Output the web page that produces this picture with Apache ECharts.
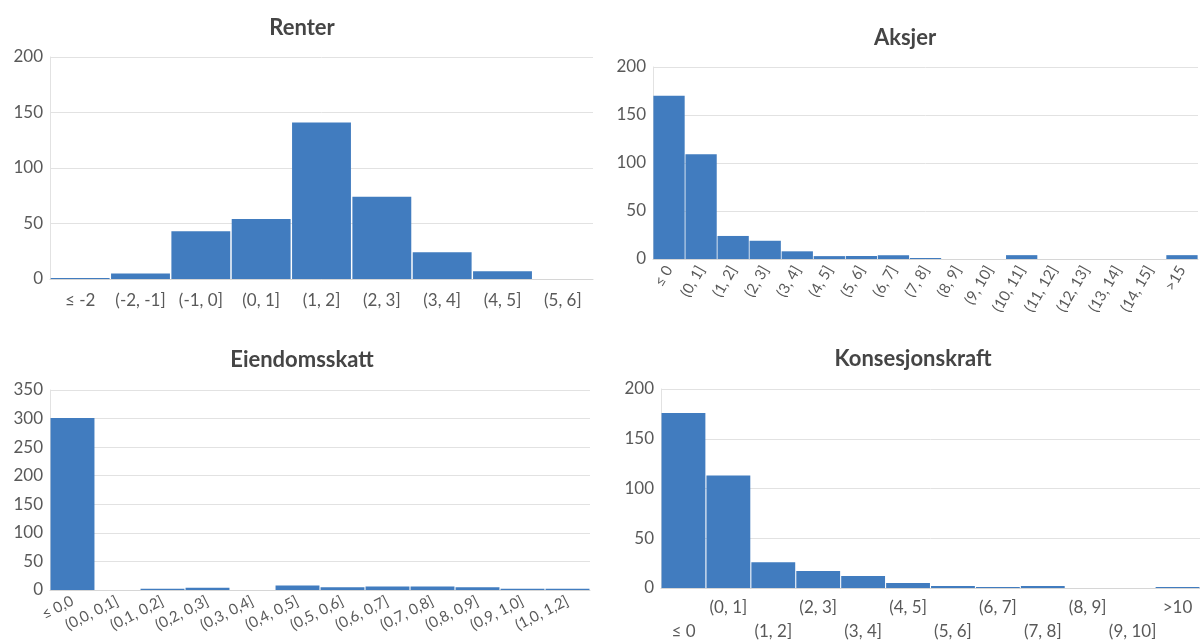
<!DOCTYPE html>
<html>
<head>
<meta charset="utf-8">
<title>Fordelinger</title>
<script src="https://cdn.jsdelivr.net/npm/echarts@6/dist/echarts.min.js"></script>
<style>
  html, body { margin: 0; padding: 0; background: #fff; }
  #chart { width: 1200px; height: 644px; }
</style>
</head>
<body>
<div id="chart"></div>
<script>
// Histogram bins and counts for each panel
const renterCategories = ['≤ -2', '(-2, -1]', '(-1, 0]', '(0, 1]', '(1, 2]', '(2, 3]', '(3, 4]', '(4, 5]', '(5, 6]'];
const renterValues = [1, 5, 43, 54, 141, 74, 24, 7, 0];

const aksjerCategories = ['≤ 0', '(0, 1]', '(1, 2]', '(2, 3]', '(3, 4]', '(4, 5]', '(5, 6]', '(6, 7]', '(7, 8]', '(8, 9]', '(9, 10]', '(10, 11]', '(11, 12]', '(12, 13]', '(13, 14]', '(14, 15]', '>15'];
const aksjerValues = [170, 109, 24, 19, 8, 3, 3, 4, 1, 0, 0, 4, 0, 0, 0, 0, 4];

const eiendomCategories = ['≤ 0,0', '(0,0, 0,1]', '(0,1, 0,2]', '(0,2, 0,3]', '(0,3, 0,4]', '(0,4, 0,5]', '(0,5, 0,6]', '(0,6, 0,7]', '(0,7, 0,8]', '(0,8, 0,9]', '(0,9, 1,0]', '(1,0, 1,2]'];
const eiendomValues = [301, 0, 2, 4, 0, 8, 5, 6, 6, 5, 2, 2];

const konsesjonCategories = ['≤ 0', '(0, 1]', '(1, 2]', '(2, 3]', '(3, 4]', '(4, 5]', '(5, 6]', '(6, 7]', '(7, 8]', '(8, 9]', '(9, 10]', '>10'];
const konsesjonValues = [176, 113, 26, 17, 12, 5, 2, 1, 2, 0, 0, 1];

const panelTitles = ['Renter', 'Aksjer', 'Eiendomsskatt', 'Konsesjonskraft'];
const yMax = [200, 200, 350, 200];

const FONT = 'Lato, "Noto Sans", sans-serif';
const BAR = '#417CBF';
const GRID_LINE = '#E2E2E2';
const LABEL = '#595959';

const chart = echarts.init(document.getElementById('chart'), null, { renderer: 'canvas' });

const grids = [
  { left: 50, top: 57, width: 543, height: 222 },
  { left: 653, top: 67, width: 545, height: 192 },
  { left: 50, top: 390, width: 540, height: 200 },
  { left: 661, top: 389, width: 545, height: 200 }
];

const titlePos = [
  { x: 302, y: 17 },
  { x: 905, y: 27 },
  { x: 302, y: 349 },
  { x: 913, y: 348 }
];

const cats = [renterCategories, aksjerCategories, eiendomCategories, konsesjonCategories];
const vals = [renterValues, aksjerValues, eiendomValues, konsesjonValues];

const xLabels = [
  { fontSize: 17, margin: 10, lineHeight: 24, rotate: 0 },
  { fontSize: 15, margin: 8, rotate: 60 },
  { fontSize: 15, margin: 10, rotate: 27 },
  {
    fontSize: 17, margin: 8, lineHeight: 24, rotate: 0,
    // staggered two-row labels
    formatter: (v, i) => (i % 2 === 0 ? '\n' + v : v)
  }
];

const option = {
  animation: false,
  backgroundColor: '#fff',
  title: panelTitles.map((t, i) => ({
    text: t,
    left: titlePos[i].x,
    top: titlePos[i].y,
    textAlign: 'center',
    padding: 0,
    textStyle: { fontFamily: FONT, fontSize: 22, fontWeight: 'bold', color: '#454545' }
  })),
  grid: grids.map(g => Object.assign({ containLabel: false }, g)),
  xAxis: cats.map((c, i) => ({
    type: 'category',
    gridIndex: i,
    data: c,
    axisTick: { show: false },
    axisLine: { lineStyle: { color: '#D6D6D6', width: 1 } },
    axisLabel: Object.assign({
      interval: 0,
      color: LABEL,
      fontFamily: FONT
    }, xLabels[i]),
    splitLine: { show: false }
  })),
  yAxis: yMax.map((m, i) => ({
    type: 'value',
    gridIndex: i,
    min: 0,
    max: m,
    interval: 50,
    axisLine: { show: true, lineStyle: { color: GRID_LINE, width: 1 } },
    axisTick: { show: false },
    axisLabel: { color: LABEL, fontFamily: FONT, fontSize: 17, margin: 7 },
    splitLine: { lineStyle: { color: GRID_LINE, width: 1 } }
  })),
  series: vals.map((v, i) => ({
    type: 'bar',
    xAxisIndex: i,
    yAxisIndex: i,
    data: v,
    barCategoryGap: '2.4%',
    itemStyle: { color: BAR },
    silent: true
  }))
};

chart.setOption(option);
</script>
</body>
</html>
